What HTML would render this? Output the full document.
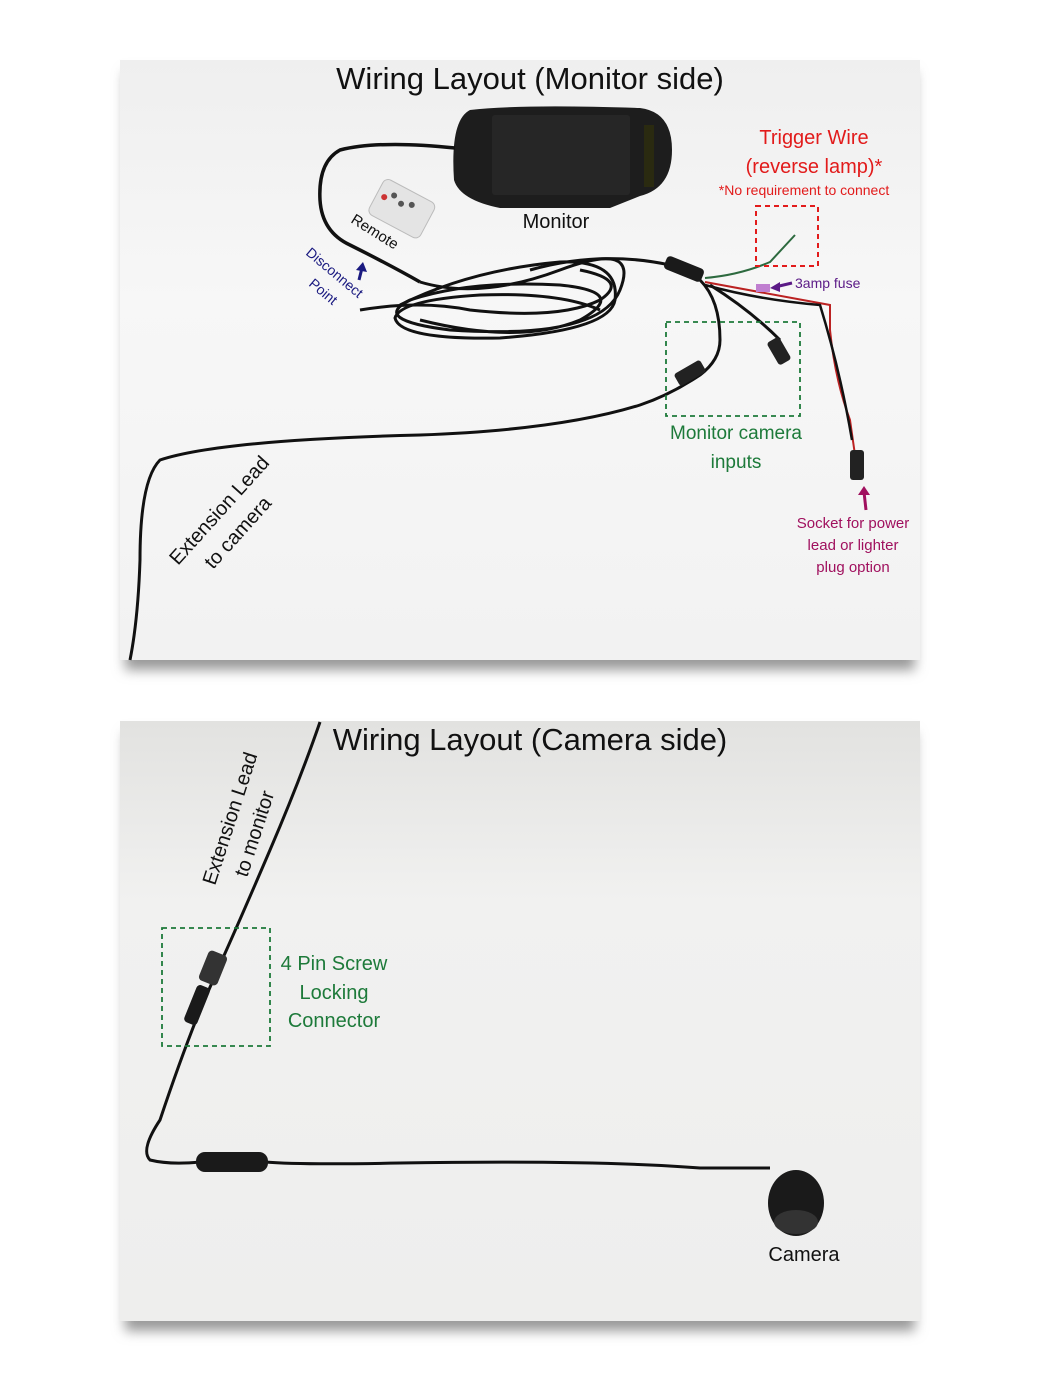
<!DOCTYPE html>
<html><head><meta charset="utf-8"><style>
html,body{margin:0;padding:0;background:#fff;width:1040px;height:1400px;overflow:hidden}
svg{display:block}
text{font-family:"Liberation Sans","DejaVu Sans",sans-serif}
</style></head><body>
<svg width="1040" height="1400" viewBox="0 0 1040 1400" xmlns="http://www.w3.org/2000/svg">
<defs>
<linearGradient id="bg1" x1="0" y1="0" x2="0" y2="1"><stop offset="0" stop-color="#efefef"/><stop offset="0.4" stop-color="#f7f7f7"/><stop offset="1" stop-color="#f2f2f2"/></linearGradient>
<linearGradient id="bg2" x1="0" y1="0" x2="0" y2="1"><stop offset="0" stop-color="#e2e2e0"/><stop offset="0.3" stop-color="#f1f1f0"/><stop offset="1" stop-color="#eeeeed"/></linearGradient>
<filter id="sh" x="-5%" y="-5%" width="110%" height="115%"><feGaussianBlur stdDeviation="6"/></filter>
</defs>
<rect x="125" y="72" width="790" height="598" fill="#999" filter="url(#sh)"/>
<rect x="125" y="733" width="790" height="598" fill="#999" filter="url(#sh)"/>
<rect x="120" y="60" width="800" height="600" fill="url(#bg1)"/>
<rect x="120" y="721" width="800" height="600" fill="url(#bg2)"/>

<text x="530" y="89" font-size="31" text-anchor="middle" fill="#111">Wiring Layout (Monitor side)</text>
<path d="M470 110 Q520 104 640 108 Q672 112 672 150 Q672 188 640 196 L610 208 L500 208 Q460 200 454 180 Q450 120 470 110Z" fill="#1d1d1d"/>
<rect x="492" y="115" width="138" height="80" rx="3" fill="#262626"/>
<rect x="644" y="125" width="10" height="62" fill="#2a2a10"/>
<text x="556" y="228" font-size="20" text-anchor="middle" fill="#111">Monitor</text>
<path d="M455 148 Q380 140 340 150 Q318 162 320 200 Q322 232 350 245 Q390 265 420 282" stroke="#111" stroke-width="3.5" fill="none"/>
<g transform="rotate(28 400 210)"><rect x="372" y="188" width="58" height="40" rx="6" fill="#e4e4e4" stroke="#bbb"/><circle cx="388" cy="200" r="3" fill="#555"/><circle cx="398" cy="204" r="3" fill="#555"/><circle cx="408" cy="200" r="3" fill="#555"/><circle cx="380" cy="206" r="3" fill="#c33"/></g>
<text x="350" y="222" font-size="15" fill="#111" transform="rotate(32 350 222)">Remote</text>
<g stroke="#111" stroke-width="3" fill="none">
<path d="M420 282 Q480 300 560 270 Q640 240 620 290 Q600 340 450 330 Q370 320 410 300 Q470 280 560 285 Q630 292 580 320 Q520 345 420 320"/>
<path d="M400 305 Q470 270 560 262 Q620 260 615 300 Q610 330 500 338 Q400 340 395 318 Q400 300 480 295 Q560 292 600 310"/>
<path d="M360 310 Q420 300 470 310 Q560 320 600 300 Q630 280 580 270"/>
<path d="M530 270 Q600 250 670 265 L700 280"/>
</g>
<path d="M700 280 Q720 300 720 340 Q720 360 700 375 Q670 395 640 405 Q560 430 420 435 Q220 440 160 460 Q140 480 140 560 Q138 620 130 660" stroke="#111" stroke-width="3" fill="none"/>
<rect x="675" y="366" width="30" height="14" rx="3" fill="#222" transform="rotate(-30 690 373)"/>
<rect x="664" y="262" width="40" height="14" rx="4" fill="#1a1a1a" transform="rotate(22 684 269)"/>
<path d="M705 278 Q740 275 770 262 L795 235" stroke="#2d6a3f" stroke-width="2" fill="none"/>
<path d="M705 282 Q760 292 830 305 L830 330 Q835 380 850 420 L855 455" stroke="#b22" stroke-width="2" fill="none"/>
<path d="M705 285 Q760 300 820 305 Q840 370 852 440" stroke="#111" stroke-width="2.5" fill="none"/>
<path d="M710 285 Q750 310 780 340" stroke="#111" stroke-width="3" fill="none"/>
<rect x="772" y="338" width="14" height="26" rx="3" fill="#222" transform="rotate(-30 779 351)"/>
<rect x="850" y="450" width="14" height="30" rx="3" fill="#222"/>
<rect x="756" y="284" width="14" height="8" fill="#c07fd0"/>
<text x="814" y="144" font-size="20" text-anchor="middle" fill="#e21b1b">Trigger Wire</text>
<text x="814" y="173" font-size="20" text-anchor="middle" fill="#e21b1b">(reverse lamp)*</text>
<text x="804" y="195" font-size="14" text-anchor="middle" fill="#e21b1b">*No requirement to connect</text>
<rect x="756" y="206" width="62" height="60" fill="none" stroke="#e21b1b" stroke-width="2" stroke-dasharray="5,4"/>
<path d="M775 287 L792 283" stroke="#5b1a86" stroke-width="3"/><path d="M770 288 L780 282 L780 292Z" fill="#5b1a86"/>
<text x="795" y="288" font-size="14" fill="#5b1a86">3amp fuse</text>
<rect x="666" y="322" width="134" height="94" fill="none" stroke="#1d7a3a" stroke-width="1.8" stroke-dasharray="5,4"/>
<text x="736" y="439" font-size="19" text-anchor="middle" fill="#1d7a3a">Monitor camera</text>
<text x="736" y="468" font-size="19" text-anchor="middle" fill="#1d7a3a">inputs</text>
<path d="M866 510 L864 492" stroke="#a0105e" stroke-width="3"/><path d="M858 495 L864 486 L870 495Z" fill="#a0105e"/>
<text x="853" y="528" font-size="15" text-anchor="middle" fill="#a0105e">Socket for power</text>
<text x="853" y="550" font-size="15" text-anchor="middle" fill="#a0105e">lead or lighter</text>
<text x="853" y="572" font-size="15" text-anchor="middle" fill="#a0105e">plug option</text>
<path d="M359 280 L362 268" stroke="#1a1a80" stroke-width="3"/><path d="M356 270 L363 262 L367 272Z" fill="#1a1a80"/>
<text x="305" y="254" font-size="14" fill="#1a1a80" transform="rotate(40 305 254)">Disconnect</text>
<text x="308" y="285" font-size="14" fill="#1a1a80" transform="rotate(40 308 285)">Point</text>
<text x="178" y="566" font-size="20" fill="#111" transform="rotate(-48 178 566)">Extension Lead</text>
<text x="213" y="570" font-size="20" fill="#111" transform="rotate(-48 213 570)">to camera</text>

<text x="530" y="750" font-size="31" text-anchor="middle" fill="#111">Wiring Layout (Camera side)</text>
<path d="M320 722 Q300 780 270 850 Q240 920 222 960 L200 1010 Q180 1060 160 1120 Q140 1150 150 1160 Q170 1165 200 1162 L265 1162 Q300 1165 400 1163 Q600 1160 700 1168 L770 1168" stroke="#111" stroke-width="3" fill="none"/>
<rect x="203" y="952" width="20" height="32" rx="4" fill="#333" transform="rotate(22 213 968)"/>
<rect x="190" y="985" width="14" height="40" rx="4" fill="#1a1a1a" transform="rotate(22 197 1005)"/>
<rect x="196" y="1152" width="72" height="20" rx="9" fill="#1a1a1a"/>
<ellipse cx="796" cy="1203" rx="28" ry="33" fill="#1a1a1a"/>
<ellipse cx="796" cy="1222" rx="22" ry="12" fill="#333"/>
<rect x="162" y="928" width="108" height="118" fill="none" stroke="#1d7a3a" stroke-width="1.8" stroke-dasharray="5,4"/>
<text x="334" y="970" font-size="20" text-anchor="middle" fill="#1d7a3a">4 Pin Screw</text>
<text x="334" y="999" font-size="20" text-anchor="middle" fill="#1d7a3a">Locking</text>
<text x="334" y="1027" font-size="20" text-anchor="middle" fill="#1d7a3a">Connector</text>
<text x="804" y="1261" font-size="20" text-anchor="middle" fill="#111">Camera</text>
<text x="215" y="886" font-size="20" fill="#111" transform="rotate(-72 215 886)">Extension Lead</text>
<text x="247" y="878" font-size="20" fill="#111" transform="rotate(-72 247 878)">to monitor</text>
</svg>
</body></html>
